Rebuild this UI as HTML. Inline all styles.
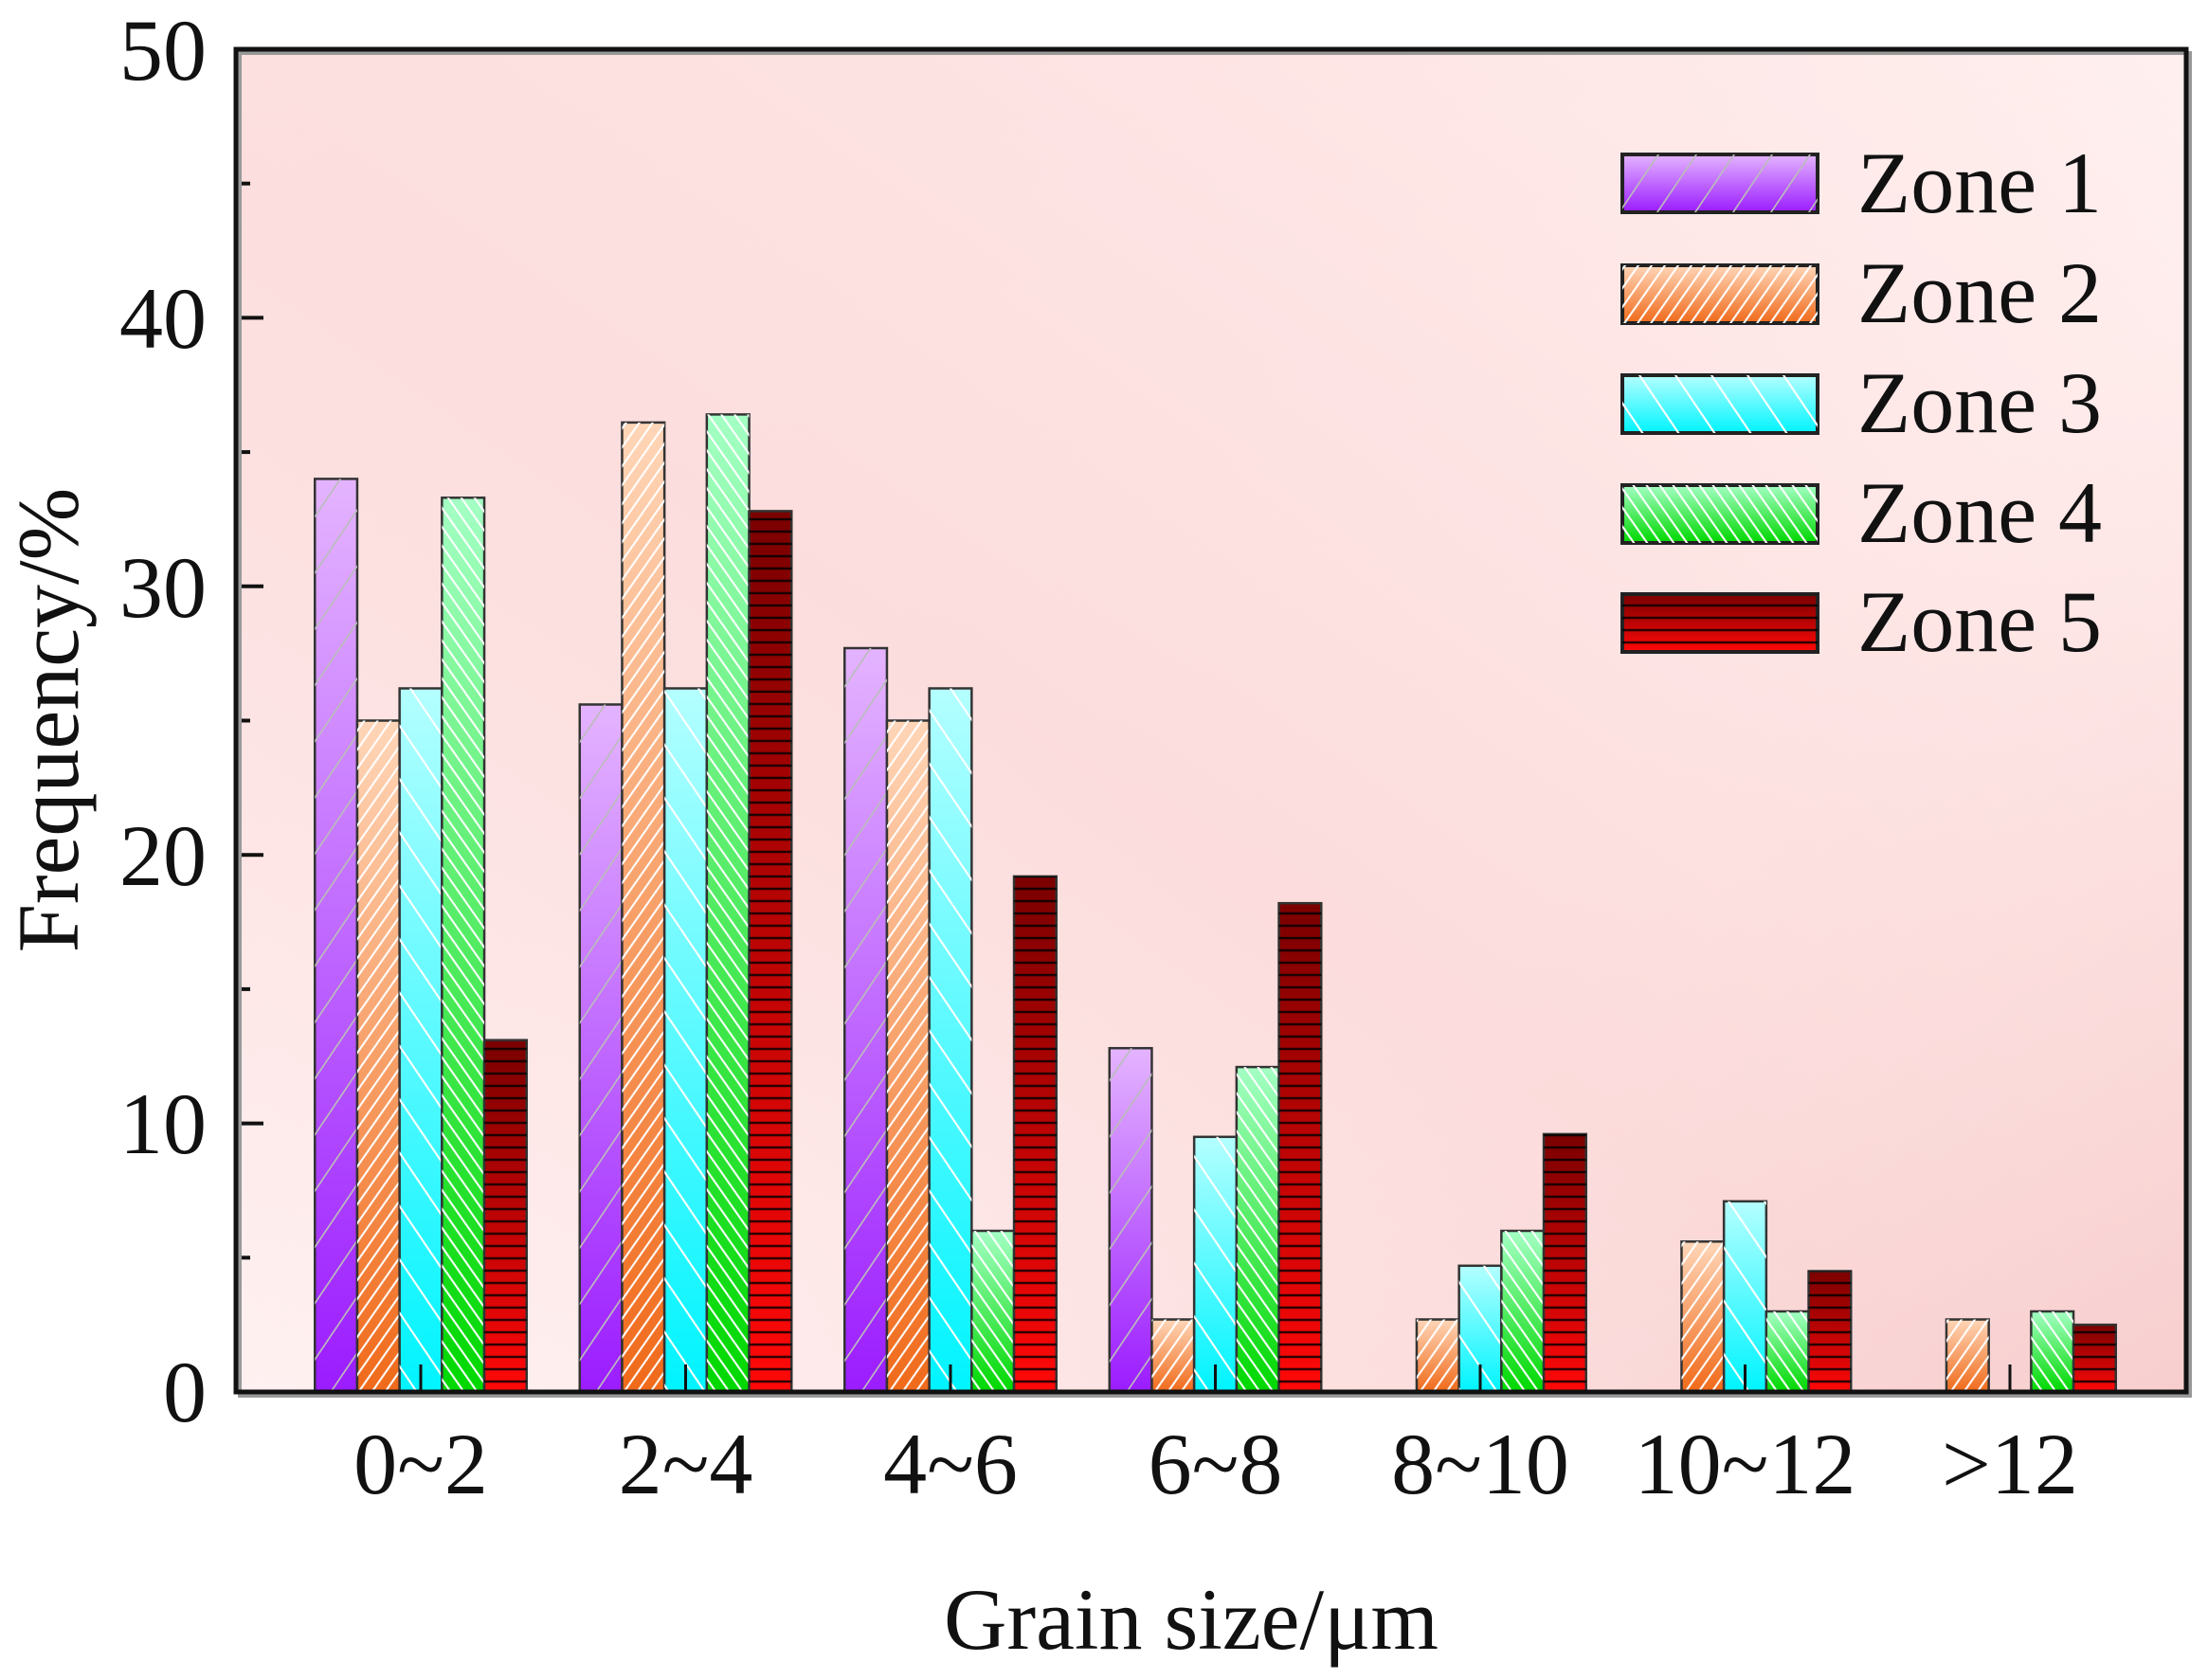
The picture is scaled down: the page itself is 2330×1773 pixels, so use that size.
<!DOCTYPE html>
<html><head><meta charset="utf-8"><style>
html,body{margin:0;padding:0;background:#fff;}
svg{display:block;font-family:"Liberation Serif",serif;}
</style></head><body>
<svg width="2330" height="1773" viewBox="0 0 2330 1773" xmlns="http://www.w3.org/2000/svg">
<defs>
<linearGradient id="bg" x1="0" y1="1" x2="1" y2="0">
<stop offset="0" stop-color="#fff3f3"/><stop offset="0.45" stop-color="#fcdcdc"/><stop offset="1" stop-color="#fff1f0"/>
</linearGradient>
<linearGradient id="bg2" x1="0" y1="0" x2="1" y2="1">
<stop offset="0" stop-color="#fde0e0" stop-opacity="0.6"/><stop offset="0.6" stop-color="#fde0e0" stop-opacity="0"/><stop offset="1" stop-color="#f6caca" stop-opacity="0.8"/>
</linearGradient>
<linearGradient id="g1" x1="0" y1="0" x2="0" y2="1"><stop offset="0" stop-color="#e4b4ff"/><stop offset="1" stop-color="#9b1cff"/></linearGradient>
<linearGradient id="g2" x1="0" y1="0" x2="0" y2="1"><stop offset="0" stop-color="#ffd6b8"/><stop offset="1" stop-color="#f06a1a"/></linearGradient>
<linearGradient id="g3" x1="0" y1="0" x2="0" y2="1"><stop offset="0" stop-color="#b4ffff"/><stop offset="1" stop-color="#00f4ff"/></linearGradient>
<linearGradient id="g4" x1="0" y1="0" x2="0" y2="1"><stop offset="0" stop-color="#a4ffc4"/><stop offset="1" stop-color="#00d800"/></linearGradient>
<linearGradient id="g5" x1="0" y1="0" x2="0" y2="1"><stop offset="0" stop-color="#7a0000"/><stop offset="1" stop-color="#ff0808"/></linearGradient>
<pattern id="p1" patternUnits="userSpaceOnUse" width="40" height="60" patternTransform="skewX(-34)"><line x1="20" y1="0" x2="20" y2="60" stroke="#bbbbbb" stroke-width="2"/></pattern>
<pattern id="p2" patternUnits="userSpaceOnUse" width="14" height="20" patternTransform="skewX(-35)"><line x1="7" y1="0" x2="7" y2="20" stroke="#ffffff" stroke-width="2.5"/></pattern>
<pattern id="p3" patternUnits="userSpaceOnUse" width="38" height="60" patternTransform="skewX(34)"><line x1="19" y1="0" x2="19" y2="60" stroke="#ffffff" stroke-width="2.5"/></pattern>
<pattern id="p4" patternUnits="userSpaceOnUse" width="14" height="20" patternTransform="skewX(35)"><line x1="7" y1="0" x2="7" y2="20" stroke="#ffffff" stroke-width="2.5"/></pattern>
<pattern id="p5" patternUnits="userSpaceOnUse" width="20" height="13"><line x1="0" y1="2" x2="20" y2="2" stroke="#000" stroke-width="2.5" stroke-opacity="0.8"/></pattern>
</defs>
<rect x="249" y="52" width="2058" height="1417" fill="url(#bg)"/>
<rect x="249" y="52" width="2058" height="1417" fill="url(#bg2)"/>

<g stroke="#333" stroke-width="2.5">
<!-- zone1 -->
<g fill="url(#g1)">
<rect x="332.25" y="505.4" width="44.7" height="963.6"/>
<rect x="611.75" y="743.5" width="44.7" height="725.5"/>
<rect x="891.25" y="684" width="44.7" height="785"/>
<rect x="1170.75" y="1106.2" width="44.7" height="362.8"/>
</g>
<g fill="url(#p1)" stroke="none">
<rect x="332.25" y="505.4" width="44.7" height="963.6"/>
<rect x="611.75" y="743.5" width="44.7" height="725.5"/>
<rect x="891.25" y="684" width="44.7" height="785"/>
<rect x="1170.75" y="1106.2" width="44.7" height="362.8"/>
</g>
<!-- zone2 -->
<g fill="url(#g2)">
<rect x="376.95" y="760.5" width="44.7" height="708.5"/>
<rect x="656.45" y="445.9" width="44.7" height="1023.1"/>
<rect x="935.95" y="760.5" width="44.7" height="708.5"/>
<rect x="1215.45" y="1392.5" width="44.7" height="76.5"/>
<rect x="1494.95" y="1392.5" width="44.7" height="76.5"/>
<rect x="1774.45" y="1310.3" width="44.7" height="158.7"/>
<rect x="2053.95" y="1392.5" width="44.7" height="76.5"/>
</g>
<g fill="url(#p2)" stroke="none">
<rect x="376.95" y="760.5" width="44.7" height="708.5"/>
<rect x="656.45" y="445.9" width="44.7" height="1023.1"/>
<rect x="935.95" y="760.5" width="44.7" height="708.5"/>
<rect x="1215.45" y="1392.5" width="44.7" height="76.5"/>
<rect x="1494.95" y="1392.5" width="44.7" height="76.5"/>
<rect x="1774.45" y="1310.3" width="44.7" height="158.7"/>
<rect x="2053.95" y="1392.5" width="44.7" height="76.5"/>
</g>
<!-- zone3 -->
<g fill="url(#g3)">
<rect x="421.65" y="726.5" width="44.7" height="742.5"/>
<rect x="701.15" y="726.5" width="44.7" height="742.5"/>
<rect x="980.65" y="726.5" width="44.7" height="742.5"/>
<rect x="1260.15" y="1199.8" width="44.7" height="269.2"/>
<rect x="1539.65" y="1335.8" width="44.7" height="133.2"/>
<rect x="1819.15" y="1267.8" width="44.7" height="201.2"/>
</g>
<g fill="url(#p3)" stroke="none">
<rect x="421.65" y="726.5" width="44.7" height="742.5"/>
<rect x="701.15" y="726.5" width="44.7" height="742.5"/>
<rect x="980.65" y="726.5" width="44.7" height="742.5"/>
<rect x="1260.15" y="1199.8" width="44.7" height="269.2"/>
<rect x="1539.65" y="1335.8" width="44.7" height="133.2"/>
<rect x="1819.15" y="1267.8" width="44.7" height="201.2"/>
</g>
<!-- zone4 -->
<g fill="url(#g4)">
<rect x="466.35" y="525.3" width="44.7" height="943.7"/>
<rect x="745.85" y="437.4" width="44.7" height="1031.6"/>
<rect x="1025.35" y="1299" width="44.7" height="170"/>
<rect x="1304.85" y="1126.1" width="44.7" height="342.9"/>
<rect x="1584.35" y="1299" width="44.7" height="170"/>
<rect x="1863.85" y="1384" width="44.7" height="85"/>
<rect x="2143.35" y="1384" width="44.7" height="85"/>
</g>
<g fill="url(#p4)" stroke="none">
<rect x="466.35" y="525.3" width="44.7" height="943.7"/>
<rect x="745.85" y="437.4" width="44.7" height="1031.6"/>
<rect x="1025.35" y="1299" width="44.7" height="170"/>
<rect x="1304.85" y="1126.1" width="44.7" height="342.9"/>
<rect x="1584.35" y="1299" width="44.7" height="170"/>
<rect x="1863.85" y="1384" width="44.7" height="85"/>
<rect x="2143.35" y="1384" width="44.7" height="85"/>
</g>
<!-- zone5 -->
<g fill="url(#g5)">
<rect x="511.05" y="1097.7" width="44.7" height="371.3"/>
<rect x="790.55" y="539.4" width="44.7" height="929.6"/>
<rect x="1070.05" y="924.9" width="44.7" height="544.1"/>
<rect x="1349.55" y="953.2" width="44.7" height="515.8"/>
<rect x="1629.05" y="1196.9" width="44.7" height="272.1"/>
<rect x="1908.55" y="1341.5" width="44.7" height="127.5"/>
<rect x="2188.05" y="1398.1" width="44.7" height="70.9"/>
</g>
<g fill="url(#p5)" stroke="none">
<rect x="511.05" y="1097.7" width="44.7" height="371.3"/>
<rect x="790.55" y="539.4" width="44.7" height="929.6"/>
<rect x="1070.05" y="924.9" width="44.7" height="544.1"/>
<rect x="1349.55" y="953.2" width="44.7" height="515.8"/>
<rect x="1629.05" y="1196.9" width="44.7" height="272.1"/>
<rect x="1908.55" y="1341.5" width="44.7" height="127.5"/>
<rect x="2188.05" y="1398.1" width="44.7" height="70.9"/>
</g>
</g>

<!-- x ticks -->
<g stroke="#111" stroke-width="3">
<line x1="444" y1="1469" x2="444" y2="1440"/><line x1="723.5" y1="1469" x2="723.5" y2="1440"/>
<line x1="1003" y1="1469" x2="1003" y2="1440"/><line x1="1282.5" y1="1469" x2="1282.5" y2="1440"/>
<line x1="1562" y1="1469" x2="1562" y2="1440"/><line x1="1841.5" y1="1469" x2="1841.5" y2="1440"/>
<line x1="2121" y1="1469" x2="2121" y2="1440"/>
</g>
<!-- y ticks -->
<g stroke="#111" stroke-width="4">
<line x1="249" y1="52" x2="278" y2="52"/><line x1="249" y1="193.7" x2="264" y2="193.7"/>
<line x1="249" y1="335.4" x2="278" y2="335.4"/><line x1="249" y1="477.1" x2="264" y2="477.1"/>
<line x1="249" y1="618.8" x2="278" y2="618.8"/><line x1="249" y1="760.5" x2="264" y2="760.5"/>
<line x1="249" y1="902.2" x2="278" y2="902.2"/><line x1="249" y1="1043.9" x2="264" y2="1043.9"/>
<line x1="249" y1="1185.6" x2="278" y2="1185.6"/><line x1="249" y1="1327.3" x2="264" y2="1327.3"/>
</g>
<!-- frame -->
<rect x="253" y="56" width="2058" height="1417" fill="none" stroke="#999" stroke-width="4"/>
<rect x="249" y="52" width="2058" height="1417" fill="none" stroke="#111" stroke-width="5"/>

<g font-size="92" fill="#111" text-anchor="end">
<text x="218" y="84">50</text><text x="218" y="367">40</text><text x="218" y="651">30</text>
<text x="218" y="934">20</text><text x="218" y="1217">10</text><text x="218" y="1500">0</text>
</g>
<g font-size="92" fill="#111" text-anchor="middle">
<text x="444" y="1576">0~2</text><text x="723.5" y="1576">2~4</text><text x="1003" y="1576">4~6</text>
<text x="1282.5" y="1576">6~8</text><text x="1562" y="1576">8~10</text><text x="1841.5" y="1576">10~12</text>
<text x="2121" y="1576">&gt;12</text>
<text x="1257" y="1740">Grain size/μm</text>
<text transform="translate(82,760) rotate(-90)">Frequency/%</text>
</g>

<!-- legend -->
<g stroke="#222" stroke-width="4">
<rect x="1712" y="163" width="206" height="61" fill="url(#g1)"/>
<rect x="1712" y="163" width="206" height="61" fill="url(#p1)" stroke="none"/>
<rect x="1712" y="280" width="206" height="61" fill="url(#g2)"/>
<rect x="1712" y="280" width="206" height="61" fill="url(#p2)" stroke="none"/>
<rect x="1712" y="396" width="206" height="61" fill="url(#g3)"/>
<rect x="1712" y="396" width="206" height="61" fill="url(#p3)" stroke="none"/>
<rect x="1712" y="512" width="206" height="61" fill="url(#g4)"/>
<rect x="1712" y="512" width="206" height="61" fill="url(#p4)" stroke="none"/>
<rect x="1712" y="627" width="206" height="61" fill="url(#g5)"/>
<rect x="1712" y="627" width="206" height="61" fill="url(#p5)" stroke="none"/>
</g>
<g font-size="92" fill="#111">
<text x="1960" y="224">Zone 1</text><text x="1960" y="340">Zone 2</text><text x="1960" y="456">Zone 3</text>
<text x="1960" y="572">Zone 4</text><text x="1960" y="687">Zone 5</text>
</g>
</svg>
</body></html>
